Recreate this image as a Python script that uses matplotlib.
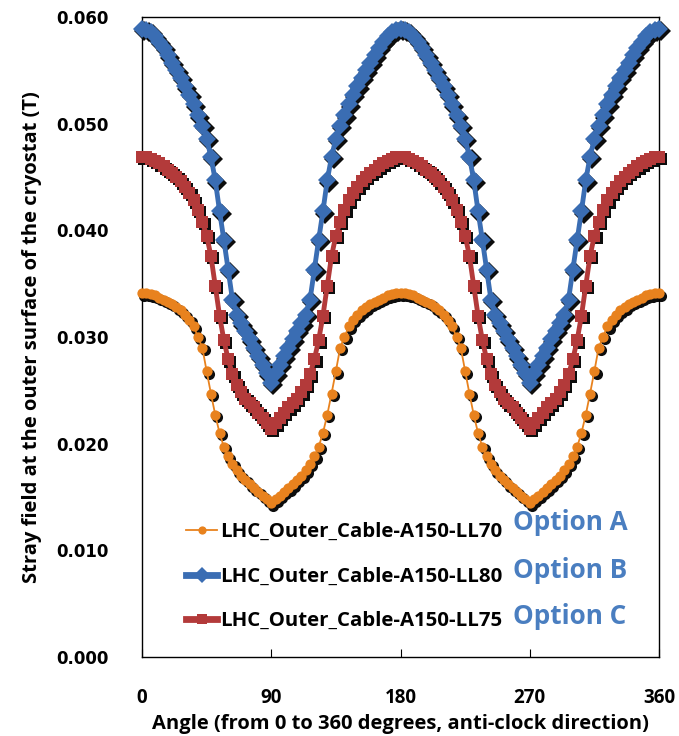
import numpy as np
import matplotlib
matplotlib.use("Agg")
import matplotlib.pyplot as plt
import matplotlib.transforms as mtransforms
from matplotlib.lines import Line2D

# Angle around the cryostat (degrees), sampled every 3 degrees
angles = np.arange(0, 361, 3)

# Stray field (T) at the outer cryostat surface for each cable option
ll70 = [
    0.0341, 0.0341, 0.0340, 0.0339, 0.0337, 0.0335, 0.0333, 0.0331, 0.0328, 0.0325, 0.0321,
    0.0316, 0.0310, 0.0300, 0.0290, 0.0268, 0.0247, 0.0227, 0.0210, 0.0197, 0.0188,
    0.0181, 0.0175, 0.0170, 0.0166, 0.0162, 0.0158, 0.0155, 0.0151, 0.0148, 0.0144,
    0.0148, 0.0151, 0.0155, 0.0158, 0.0162, 0.0166, 0.0170, 0.0175, 0.0181, 0.0188,
    0.0197, 0.0210, 0.0227, 0.0247, 0.0268, 0.0290, 0.0300, 0.0310, 0.0316, 0.0321,
    0.0325, 0.0328, 0.0331, 0.0333, 0.0335, 0.0337, 0.0339, 0.0340, 0.0341, 0.0341,
    0.0341, 0.0340, 0.0339, 0.0337, 0.0335, 0.0333, 0.0331, 0.0328, 0.0325, 0.0321,
    0.0316, 0.0310, 0.0300, 0.0290, 0.0268, 0.0247, 0.0227, 0.0210, 0.0197, 0.0188,
    0.0181, 0.0175, 0.0170, 0.0166, 0.0162, 0.0158, 0.0155, 0.0151, 0.0148, 0.0144,
    0.0148, 0.0151, 0.0155, 0.0158, 0.0162, 0.0166, 0.0170, 0.0175, 0.0181, 0.0188,
    0.0197, 0.0210, 0.0227, 0.0247, 0.0268, 0.0290, 0.0300, 0.0310, 0.0316, 0.0321,
    0.0325, 0.0328, 0.0331, 0.0333, 0.0335, 0.0337, 0.0339, 0.0340, 0.0341, 0.0341,
]
ll80 = [
    0.0589, 0.0588, 0.0586, 0.0582, 0.0577, 0.0571, 0.0564, 0.0557, 0.0550, 0.0543, 0.0535,
    0.0527, 0.0518, 0.0508, 0.0498, 0.0486, 0.0469, 0.0447, 0.0418, 0.0391, 0.0363,
    0.0335, 0.0321, 0.0313, 0.0306, 0.0298, 0.0290, 0.0282, 0.0274, 0.0266, 0.0257,
    0.0266, 0.0274, 0.0282, 0.0290, 0.0298, 0.0306, 0.0313, 0.0321, 0.0335, 0.0363,
    0.0391, 0.0418, 0.0447, 0.0469, 0.0486, 0.0498, 0.0508, 0.0518, 0.0527, 0.0535,
    0.0543, 0.0550, 0.0557, 0.0564, 0.0571, 0.0577, 0.0582, 0.0586, 0.0588, 0.0589,
    0.0588, 0.0586, 0.0582, 0.0577, 0.0571, 0.0564, 0.0557, 0.0550, 0.0543, 0.0535,
    0.0527, 0.0518, 0.0508, 0.0498, 0.0486, 0.0469, 0.0447, 0.0418, 0.0391, 0.0363,
    0.0335, 0.0321, 0.0313, 0.0306, 0.0298, 0.0290, 0.0282, 0.0274, 0.0266, 0.0257,
    0.0266, 0.0274, 0.0282, 0.0290, 0.0298, 0.0306, 0.0313, 0.0321, 0.0335, 0.0363,
    0.0391, 0.0418, 0.0447, 0.0469, 0.0486, 0.0498, 0.0508, 0.0518, 0.0527, 0.0535,
    0.0543, 0.0550, 0.0557, 0.0564, 0.0571, 0.0577, 0.0582, 0.0586, 0.0588, 0.0589,
]
ll75 = [
    0.0469, 0.0469, 0.0467, 0.0465, 0.0463, 0.0460, 0.0457, 0.0454, 0.0450, 0.0446, 0.0441,
    0.0435, 0.0428, 0.0419, 0.0408, 0.0395, 0.0376, 0.0348, 0.0320, 0.0297, 0.0279,
    0.0265, 0.0255, 0.0248, 0.0242, 0.0238, 0.0234, 0.0229, 0.0224, 0.0219, 0.0214,
    0.0219, 0.0224, 0.0229, 0.0234, 0.0238, 0.0242, 0.0248, 0.0255, 0.0265, 0.0279,
    0.0297, 0.0320, 0.0348, 0.0376, 0.0395, 0.0408, 0.0419, 0.0428, 0.0435, 0.0441,
    0.0446, 0.0450, 0.0454, 0.0457, 0.0460, 0.0463, 0.0465, 0.0467, 0.0469, 0.0469,
    0.0469, 0.0467, 0.0465, 0.0463, 0.0460, 0.0457, 0.0454, 0.0450, 0.0446, 0.0441,
    0.0435, 0.0428, 0.0419, 0.0408, 0.0395, 0.0376, 0.0348, 0.0320, 0.0297, 0.0279,
    0.0265, 0.0255, 0.0248, 0.0242, 0.0238, 0.0234, 0.0229, 0.0224, 0.0219, 0.0214,
    0.0219, 0.0224, 0.0229, 0.0234, 0.0238, 0.0242, 0.0248, 0.0255, 0.0265, 0.0279,
    0.0297, 0.0320, 0.0348, 0.0376, 0.0395, 0.0408, 0.0419, 0.0428, 0.0435, 0.0441,
    0.0446, 0.0450, 0.0454, 0.0457, 0.0460, 0.0463, 0.0465, 0.0467, 0.0469, 0.0469,
]

series_labels = ["LHC_Outer_Cable-A150-LL70", "LHC_Outer_Cable-A150-LL80", "LHC_Outer_Cable-A150-LL75"]
option_labels = ["Option A", "Option B", "Option C"]

x_ticks = [0, 90, 180, 270, 360]
y_ticks = [0.000, 0.010, 0.020, 0.030, 0.040, 0.050, 0.060]

LABEL_FONT = "Open Sans"

fig = plt.figure(figsize=(6.79, 7.36), dpi=100)
ax = fig.add_axes([142 / 679, 1 - 657 / 736, 517 / 679, 640 / 736])

styles = [
    dict(color="#E8821E", marker="o", markersize=7.4, linewidth=1.3),
    dict(color="#3A6DB3", marker="D", markersize=9.6, linewidth=3.5),
    dict(color="#B33A3A", marker="s", markersize=8.5, linewidth=3.5),
]

shadow = mtransforms.offset_copy(ax.transData, fig=fig, x=2.2, y=-2.4, units="dots")
handles = []
for i, (vals, st) in enumerate(zip([ll70, ll80, ll75], styles)):
    vals = np.asarray(vals)
    ax.plot(angles, vals, linestyle="none", marker=st["marker"], markersize=st["markersize"] + 0.6,
            color="#0d0d0d", markeredgewidth=0, transform=shadow, clip_on=False, zorder=2 + 2 * i)
    ax.plot(angles, vals, color=st["color"], marker=st["marker"], markersize=st["markersize"],
            markeredgewidth=0, linewidth=st["linewidth"], clip_on=False, zorder=3 + 2 * i)
    handles.append(Line2D([], [], color=st["color"], marker=st["marker"],
                          markersize=st["markersize"] * 0.8, markeredgewidth=0,
                          linewidth=st["linewidth"] * (1.0 if i == 0 else 1.4)))

ax.set_xlim(0, 360)
ax.set_ylim(0, 0.06)
ax.set_xticks(x_ticks)
ax.set_xticklabels([str(t) for t in x_ticks])
ax.set_yticks(y_ticks)
ax.set_yticklabels([f"{t:.3f}" for t in y_ticks])
ax.tick_params(axis="x", direction="in", length=6, width=0.8, pad=22)
ax.tick_params(axis="y", length=0, pad=24)
for lab in ax.get_xticklabels():
    lab.set_fontfamily(LABEL_FONT)
    lab.set_fontweight("bold")
    lab.set_fontsize(13.5)
for lab in ax.get_yticklabels():
    lab.set_fontfamily("DejaVu Sans")
    lab.set_fontweight("bold")
    lab.set_fontsize(12)
for sp in ax.spines.values():
    sp.set_linewidth(1.0)
    sp.set_color("black")

ax.set_xlabel("Angle (from 0 to 360 degrees, anti-clock direction)", fontfamily=LABEL_FONT,
              fontweight="bold", fontsize=14.5, labelpad=5)
ax.set_ylabel("Stray field at the outer surface of the cryostat (T)", fontfamily=LABEL_FONT,
              fontweight="bold", fontsize=14.5, labelpad=10)

leg = ax.legend(handles, series_labels, loc="upper left", bbox_to_anchor=(172 / 679, 1 - 508 / 736),
                bbox_transform=fig.transFigure, frameon=False, handlelength=1.5, handletextpad=0.15,
                labelspacing=1.2, borderpad=0.2, prop=dict(family=LABEL_FONT, weight="bold", size=14.7))

option_y = [523, 570, 617]
for lab, yy in zip(option_labels, option_y):
    fig.text(513 / 679, 1 - yy / 736, lab, color="#4A7EC0", fontfamily=LABEL_FONT, fontweight="bold",
             fontsize=18.8, ha="left", va="center")

fig.savefig("out.png", dpi=100)
